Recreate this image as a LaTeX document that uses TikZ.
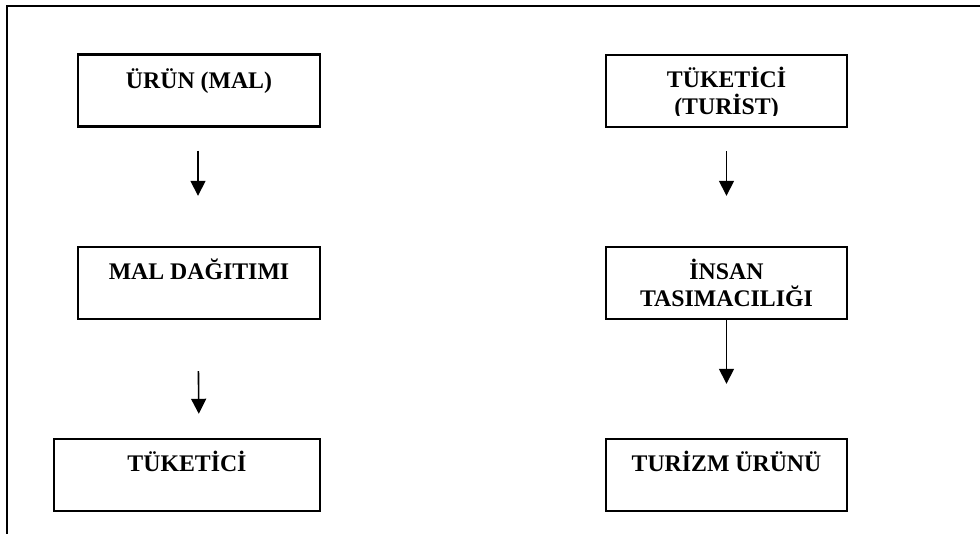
\documentclass[tikz,border=0pt]{standalone}
\usepackage{fontspec}
\setmainfont{Liberation Serif}
\usetikzlibrary{arrows.meta}

\begin{document}
\begin{tikzpicture}
[x=1pt,y=-1pt,line cap=butt,
% Styles
frame line/.style={line width=2.2pt},
box/.style={draw,line width=2.4pt,minimum height=72pt,inner sep=0pt},
box text/.style={anchor=base,inner sep=0pt,align=center,
  font=\fontsize{23.8}{27}\selectfont\bfseries},
flow arrow/.style={line width=1.6pt,-{Triangle[width=15pt,length=15pt]}}]
\useasboundingbox (0,0) rectangle (980,534);
% Frame (top and left only)
\draw[frame line] (980,6) -- (7,6) -- (7,534);
% Left column
\node[box,minimum width=242pt] (urun) at (199,90.5) {};
\node[box,minimum width=242pt] (dagitim) at (199,283) {};
\node[box,minimum width=266pt] (tuketici) at (187,475) {};
\node[box text] (urun-t) at ([yshift=-35pt]urun.north) {ÜRÜN (MAL)};
\node[box text] (dagitim-t) at ([yshift=-34pt]dagitim.north) {MAL DAĞITIMI};
\node[box text] (tuketici-t) at ([yshift=-34pt]tuketici.north) {TÜKETİCİ};
% Right column (two-line labels sit on their last line)
\node[box,minimum width=241pt] (turist) at (726.5,91) {};
\node[box,minimum width=241pt] (tasima) at (726.5,283) {};
\node[box,minimum width=241pt] (turizm) at (726.5,475) {};
\begin{scope}
\clip (606,55) rectangle (847,116);
\node[box text] (turist-t) at ([yshift=-61pt]turist.north) {TÜKETİCİ\\(TURİST)};
\end{scope}
\node[box text] (tasima-t) at ([yshift=-61pt]tasima.north) {İNSAN\\TASIMACILIĞI};
\node[box text] (turizm-t) at ([yshift=-34pt]turizm.north) {TURİZM ÜRÜNÜ};
% Arrows
\draw[flow arrow,shorten <=23pt,shorten >=50pt] ([xshift=-1pt]urun.south) -- ([xshift=-1pt]dagitim.north);
\draw[flow arrow,shorten <=51pt,shorten >=24pt] ([xshift=-1pt]dagitim.south) -- (dagitim.south |- tuketici.north);
\draw[flow arrow,shorten <=23pt,shorten >=50pt] (turist.south) -- (tasima.north);
\draw[flow arrow,shorten >=54pt] (tasima.south) -- (turizm.north);
\end{tikzpicture}
\end{document}
